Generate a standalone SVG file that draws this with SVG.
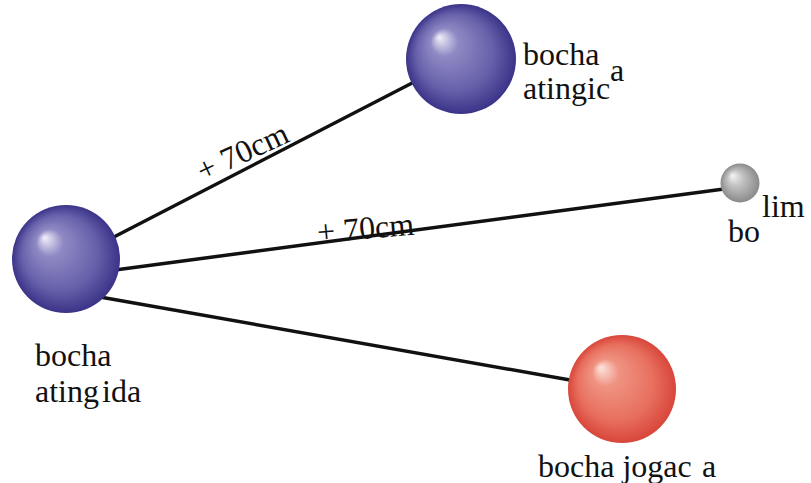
<svg xmlns="http://www.w3.org/2000/svg" width="811" height="483" viewBox="0 0 811 483">
<style>
.lbl{font-size:32px;fill:#111}
.edge{stroke:#111;stroke-width:3.5;fill:none;stroke-linecap:round}
</style>
<defs>
<radialGradient id="gBlue" cx="0.5" cy="0.5" r="0.5" fx="0.3" fy="0.3">
<stop offset="0" stop-color="#f2f1fa"/>
<stop offset="0.25" stop-color="#8f8ac4"/>
<stop offset="0.7" stop-color="#6660aa"/>
<stop offset="1" stop-color="#3b3388"/>
</radialGradient>
<radialGradient id="gRed" cx="0.5" cy="0.5" r="0.5" fx="0.3" fy="0.3">
<stop offset="0" stop-color="#fde6df"/>
<stop offset="0.25" stop-color="#ef9382"/>
<stop offset="0.7" stop-color="#e86f5e"/>
<stop offset="1" stop-color="#d8463a"/>
</radialGradient>
<radialGradient id="gGray" cx="0.5" cy="0.5" r="0.5" fx="0.3" fy="0.3">
<stop offset="0" stop-color="#f5f5f5"/>
<stop offset="0.4" stop-color="#c2c2c2"/>
<stop offset="1" stop-color="#8a8a8a"/>
</radialGradient>
</defs>
<g id="connectors">
<line class="edge" x1="110" y1="239" x2="416" y2="81"/>
<line class="edge" x1="115" y1="270" x2="724" y2="189"/>
<line class="edge" x1="100" y1="297" x2="570" y2="380"/>
<text class="lbl" font-family="Liberation Serif, serif" transform="translate(203,182) rotate(-25)">+ 70cm</text>
<text class="lbl" font-family="Liberation Serif, serif" transform="translate(318,243) rotate(-5)">+ 70cm</text>
</g>
<g id="node-left" font-family="Liberation Serif, serif">
<circle cx="66" cy="259" r="54" fill="url(#gBlue)"/>
<text class="lbl" x="35" y="366">bocha</text>
<text class="lbl" x="35" y="402">ating</text>
<text class="lbl" x="102" y="402">ida</text>
</g>
<g id="node-top" font-family="Liberation Serif, serif">
<circle cx="461" cy="59" r="55" fill="url(#gBlue)"/>
<text class="lbl" x="523" y="65">bocha</text>
<text class="lbl" x="610" y="81">a</text>
<text class="lbl" x="523" y="99">atingic</text>
</g>
<g id="node-small" font-family="Liberation Serif, serif">
<circle cx="740" cy="183" r="19.5" fill="url(#gGray)"/>
<text class="lbl" x="762" y="217">lim</text>
<text class="lbl" x="728" y="242">bo</text>
</g>
<g id="node-red" font-family="Liberation Serif, serif">
<circle cx="622" cy="389" r="54" fill="url(#gRed)"/>
<text class="lbl" x="538" y="477">bocha jogac</text>
<text class="lbl" x="702" y="477">a</text>
</g>
</svg>
